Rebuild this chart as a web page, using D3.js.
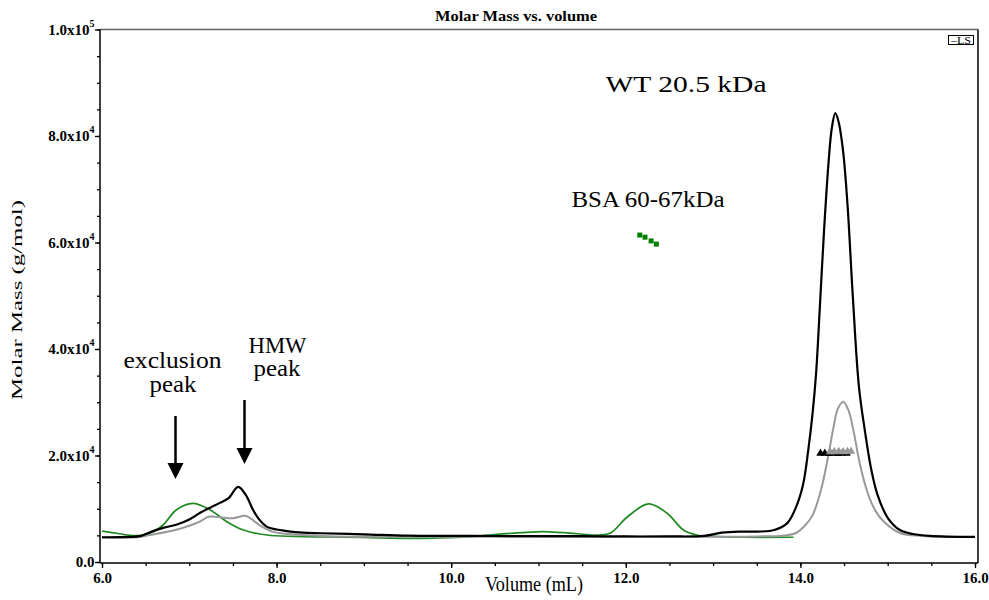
<!DOCTYPE html>
<html>
<head>
<meta charset="utf-8">
<script src="https://cdn.jsdelivr.net/npm/d3@7"></script>
<style>
  body { margin: 0; background: #fff; }
  svg { display: block; }
  text { font-family: "Liberation Serif", "Times New Roman", serif; }
</style>
</head>
<body>
<div id="chart"></div>
<script>
"use strict";

// light scattering traces, plotted on the molar mass axis (volume mL, value)
var blackTrace = [
    [6.0, 4650], [6.3, 4700], [6.45, 4900], [6.55, 5600], [6.7, 6400], [6.85, 7000],
    [7.0, 8000], [7.12, 9200], [7.25, 10300], [7.35, 11100], [7.45, 12000], [7.56, 14100],
    [7.65, 12500], [7.73, 9800], [7.8, 8000], [7.89, 6600], [8.0, 6100], [8.1, 5850],
    [8.3, 5500], [8.5, 5400], [9.0, 5200], [9.5, 4950], [10.0, 4900], [10.5, 4880],
    [11.0, 4850], [11.5, 4850], [12.0, 4800], [12.5, 4800], [12.9, 4900], [13.1, 5500],
    [13.3, 5700], [13.5, 5700], [13.7, 6000], [13.85, 7300], [13.95, 10300], [14.03, 14500],
    [14.09, 21000], [14.14, 28000], [14.18, 35500], [14.22, 47000], [14.27, 62000],
    [14.32, 74500], [14.36, 81500], [14.40, 84300], [14.44, 82500], [14.49, 77000],
    [14.54, 67000], [14.60, 50000], [14.67, 33000], [14.74, 24500], [14.81, 17500],
    [14.88, 12800], [15.0, 8300], [15.14, 6000], [15.29, 5260], [15.48, 4900], [16.0, 4700]
];
var grayTrace = [
    [6.0, 4600], [6.4, 4650], [6.55, 5070], [6.84, 6000], [7.0, 6800], [7.12, 7570],
    [7.22, 8500], [7.35, 8400], [7.5, 8200], [7.65, 8640], [7.8, 6950], [7.95, 5700],
    [8.1, 5300], [8.3, 5070], [8.6, 4850], [9.0, 4750], [10.0, 4720], [11.0, 4720],
    [12.0, 4720], [13.0, 4750], [13.5, 4800], [13.8, 4950], [13.95, 5450], [14.05, 6800],
    [14.14, 8800], [14.24, 13800], [14.32, 20000], [14.37, 24500], [14.43, 28800],
    [14.49, 30100], [14.55, 28500], [14.61, 24500], [14.68, 18500], [14.77, 13000],
    [14.86, 9600], [14.96, 7500], [15.14, 5450], [15.4, 4900], [16.0, 4700]
];
var greenTrace = [
    [6.0, 5800], [6.2, 5300], [6.36, 4950], [6.55, 5400], [6.7, 6950], [6.85, 9770],
    [7.04, 11000], [7.24, 9770], [7.43, 7570], [7.62, 6000], [7.89, 5070], [8.2, 4800],
    [8.6, 4700], [9.0, 4600], [9.5, 4450], [9.8, 4500], [10.2, 4700], [10.52, 5200],
    [10.8, 5500], [11.05, 5700], [11.3, 5500], [11.7, 5070], [11.83, 5500], [12.02, 8500],
    [12.26, 10900], [12.47, 9200], [12.66, 6000], [12.81, 5070], [13.0, 4800],
    [13.3, 4650], [13.92, 4650]
];

// molar mass points
var bsaMass = [[12.16, 61400], [12.22, 61000], [12.29, 60300], [12.35, 59700]];
var wtMassBlack = [[14.23, 20400], [14.28, 20400], [14.33, 20350], [14.38, 20400],
    [14.43, 20350], [14.48, 20400], [14.53, 20400]];
var wtMassGray = [[14.34, 20700], [14.39, 20700], [14.44, 20750], [14.49, 20700],
    [14.54, 20750], [14.58, 20800]];

var xMajor = [6, 8, 10, 12, 14, 16];
var xMinor = d3.range(6, 16.01, 0.5);
var yMajor = [0, 20000, 40000, 60000, 80000, 100000];
var yMinor = d3.range(0, 100001, 5000);
var yLabels = [["0.0", ""], ["2.0x10", "4"], ["4.0x10", "4"], ["6.0x10", "4"],
    ["8.0x10", "4"], ["1.0x10", "5"]];

var W = 989, H = 600;
var svg = d3.select("#chart").append("svg").attr("width", W).attr("height", H);

var x = d3.scaleLinear().domain([6, 16]).range([102, 975]);
var y = d3.scaleLinear().domain([0, 100000]).range([562, 29.5]);

// frame
svg.append("line").attr("x1", 100).attr("x2", 978).attr("y1", 29.5).attr("y2", 29.5)
    .attr("stroke", "#666").attr("stroke-width", 1.5);
svg.append("line").attr("x1", 978).attr("x2", 978).attr("y1", 29.5).attr("y2", 563)
    .attr("stroke", "#000").attr("stroke-width", 1.5);
svg.append("line").attr("x1", 100).attr("x2", 100).attr("y1", 29.5).attr("y2", 563)
    .attr("stroke", "#000").attr("stroke-width", 1.5);
svg.append("line").attr("x1", 100).attr("x2", 978).attr("y1", 563).attr("y2", 563)
    .attr("stroke", "#000").attr("stroke-width", 1.5);

// ticks
var gxMinor = svg.append("g").attr("transform", "translate(0,563)")
    .call(d3.axisBottom(x).tickValues(xMinor).tickSize(3).tickFormat(""));
var gx = svg.append("g").attr("transform", "translate(0,563)")
    .call(d3.axisBottom(x).tickValues(xMajor).tickSize(5).tickPadding(4)
        .tickFormat(d3.format(".1f")));
var gyMinor = svg.append("g").attr("transform", "translate(100,0)")
    .call(d3.axisLeft(y).tickValues(yMinor).tickSize(3).tickFormat(""));
var gy = svg.append("g").attr("transform", "translate(100,0)")
    .call(d3.axisLeft(y).tickValues(yMajor).tickSize(5).tickFormat(""));
[gxMinor, gx, gyMinor, gy].forEach(function (g) {
    g.select(".domain").remove();
    g.attr("font-family", "'Liberation Serif', serif");
    g.selectAll(".tick line").attr("stroke", "#000").attr("stroke-width", 1.3);
});
gx.selectAll(".tick text").attr("fill", "#000").attr("font-size", 15)
    .attr("font-weight", "bold");

var yl = svg.append("g");
yMajor.forEach(function (v, i) {
    var t = yl.append("text").attr("x", 94.5).attr("y", y(v) + 5)
        .attr("text-anchor", "end").attr("font-size", 15).attr("font-weight", "bold");
    t.append("tspan").text(yLabels[i][0]);
    if (yLabels[i][1]) {
        t.append("tspan").attr("dy", -8).attr("font-size", 10).text(yLabels[i][1]);
    }
});

// traces
var line = d3.line().x(function (d) { return x(d[0]); }).y(function (d) { return y(d[1]); })
    .curve(d3.curveCatmullRom.alpha(0.5));
svg.append("path").datum(greenTrace).attr("d", line).attr("fill", "none")
    .attr("stroke", "#1f8a22").attr("stroke-width", 1.7);
svg.append("path").datum(grayTrace).attr("d", line).attr("fill", "none")
    .attr("stroke", "#999").attr("stroke-width", 2);
svg.append("path").datum(blackTrace).attr("d", line).attr("fill", "none")
    .attr("stroke", "#000").attr("stroke-width", 2.2);

// markers
svg.selectAll(".bsa").data(bsaMass).enter().append("rect")
    .attr("x", function (d) { return x(d[0]) - 2.5; })
    .attr("y", function (d) { return y(d[1]) - 2.5; })
    .attr("width", 5).attr("height", 5).attr("fill", "#008000");
var tri = d3.symbol().type(d3.symbolTriangle).size(30);
svg.selectAll(".wtb").data(wtMassBlack).enter().append("path").attr("d", tri)
    .attr("transform", function (d) { return "translate(" + x(d[0]) + "," + y(d[1]) + ")"; })
    .attr("fill", "#000");
svg.selectAll(".wtg").data(wtMassGray).enter().append("path").attr("d", tri)
    .attr("transform", function (d) { return "translate(" + x(d[0]) + "," + y(d[1]) + ")"; })
    .attr("fill", "#999");

// titles
svg.append("text").attr("x", 516).attr("y", 21).attr("text-anchor", "middle")
    .attr("font-size", 15.5).attr("font-weight", "bold")
    .attr("textLength", 162).attr("lengthAdjust", "spacingAndGlyphs")
    .text("Molar Mass vs. volume");
svg.append("text").attr("x", 534).attr("y", 591).attr("text-anchor", "middle")
    .attr("font-size", 20).attr("textLength", 98).attr("lengthAdjust", "spacingAndGlyphs")
    .text("Volume (mL)");
svg.append("text").attr("transform", "translate(22,300) rotate(-90)").attr("text-anchor", "middle")
    .attr("font-size", 15.5).attr("textLength", 200).attr("lengthAdjust", "spacingAndGlyphs")
    .text("Molar Mass (g/mol)");

// legend box
svg.append("rect").attr("x", 948.5).attr("y", 35.5).attr("width", 25).attr("height", 9)
    .attr("fill", "#fff").attr("stroke", "#000").attr("stroke-width", 1);
svg.append("text").attr("x", 961).attr("y", 43.5).attr("text-anchor", "middle")
    .attr("font-family", "'Liberation Sans', Arial, sans-serif").attr("font-size", 10)
    .attr("textLength", 20).attr("lengthAdjust", "spacingAndGlyphs")
    .text("\u2013LS");

// annotations
function label(txt, cx, by, len, fs) {
    svg.append("text").attr("x", cx).attr("y", by).attr("text-anchor", "middle")
        .attr("font-size", fs).attr("textLength", len).attr("lengthAdjust", "spacingAndGlyphs")
        .text(txt);
}
label("WT 20.5 kDa", 686, 92, 161, 24);
label("BSA 60-67kDa", 648, 207, 153, 23);
label("exclusion", 172.5, 368, 98, 23);
label("peak", 173, 392, 47, 23);
label("HMW", 277.5, 353, 58, 23);
label("peak", 277, 376, 47, 23);

function arrow(cx, top, headTop, tip) {
    svg.append("line").attr("x1", cx).attr("x2", cx).attr("y1", top).attr("y2", headTop + 1)
        .attr("stroke", "#000").attr("stroke-width", 2.5);
    svg.append("path").attr("d", "M" + (cx - 8) + "," + headTop + "L" + (cx + 8) + "," + headTop +
        "L" + cx + "," + tip + "Z").attr("fill", "#000");
}
arrow(175.5, 416, 463, 479);
arrow(244.5, 400, 448, 464);
</script>
</body>
</html>
